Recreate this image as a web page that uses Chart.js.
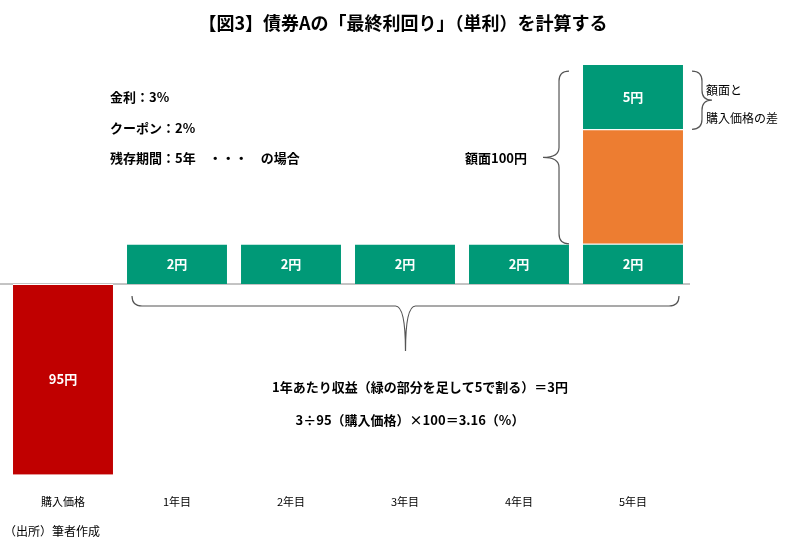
<!DOCTYPE html>
<html><head><meta charset="utf-8">
<script src="https://cdn.jsdelivr.net/npm/chart.js@4/dist/chart.umd.min.js"></script>
<style>body{margin:0;background:#fff}</style></head>
<body><canvas id="c" width="803" height="546"></canvas>
<script>
const categories = ['購入価格','1年目','2年目','3年目','4年目','5年目'];
const priceHeight = [-95, null, null, null, null, null];
const couponHeight = [null, 20, 20, 20, 20, 20];
const faceBodyHeight = [null, null, null, null, null, 57];
const diffHeight = [null, null, null, null, null, 32.5];
const priceLabels = ['95円'];
const couponLabels = ['2円','2円','2円','2円','2円'];
const diffLabels = ['5円'];
const FONT = '"Noto Sans CJK JP", "Noto Sans", sans-serif';

function brace(ctx, x1, y1, x2, y2, dir, depth){
  ctx.beginPath();
  ctx.strokeStyle='#555';ctx.lineWidth=1.2;
  if(dir==='down'){
    const m=(x1+x2)/2, r=10;
    ctx.moveTo(x1,y1);
    ctx.quadraticCurveTo(x1,y1+r,x1+r,y1+r);
    ctx.lineTo(m-r,y1+r);
    ctx.quadraticCurveTo(m,y1+r,m,y1+depth);
    ctx.quadraticCurveTo(m,y1+r,m+r,y1+r);
    ctx.lineTo(x2-r,y1+r);
    ctx.quadraticCurveTo(x2,y1+r,x2,y1);
  } else {
    const s = dir==='left'?-1:1, m=(y1+y2)/2, r=10;
    ctx.moveTo(x1,y1);
    ctx.quadraticCurveTo(x1+s*r,y1,x1+s*r,y1+r);
    ctx.lineTo(x1+s*r,m-r);
    ctx.quadraticCurveTo(x1+s*r,m,x1+s*depth,m);
    ctx.quadraticCurveTo(x1+s*r,m,x1+s*r,m+r);
    ctx.lineTo(x1+s*r,y2-r);
    ctx.quadraticCurveTo(x1+s*r,y2,x1,y2);
  }
  ctx.stroke();
}

const deco = {
  id:'deco',
  beforeDatasetsDraw(chart){
    const ctx=chart.ctx, y=chart.scales.y;
    ctx.save();ctx.strokeStyle='#888';ctx.lineWidth=1;
    ctx.beginPath();ctx.moveTo(0,y.getPixelForValue(0));ctx.lineTo(chart.chartArea.right,y.getPixelForValue(0));ctx.stroke();
    ctx.restore();
  },
  afterDatasetsDraw(chart){
    const ctx=chart.ctx;
    ctx.save();
    ctx.fillStyle='#fff';ctx.font='bold 13px '+FONT;ctx.textAlign='center';ctx.textBaseline='middle';
    const put=(di,labels,offset)=>{
      chart.getDatasetMeta(di).data.forEach((el,i)=>{
        const v=chart.data.datasets[di].data[i]; if(v==null) return;
        const t=labels[i-offset]; ctx.fillText(t,el.x,(el.y+el.base)/2);
      });
    };
    put(0,priceLabels,0);put(1,couponLabels,1);put(3,diffLabels,5);
    ctx.fillStyle='#000';ctx.textAlign='center';
    ctx.font='bold 18px '+FONT;ctx.fillText('【図3】債券Aの「最終利回り」（単利）を計算する',403,23);
    ctx.font='bold 13px '+FONT;ctx.textAlign='left';
    ctx.fillText('金利：3%',110,97);
    ctx.fillText('クーポン：2%',110,128);
    ctx.fillText('残存期間：5年　・・・　の場合',110,158);
    ctx.textAlign='right';ctx.fillText('額面100円',527,158);
    ctx.textAlign='center';
    ctx.fillText('1年あたり収益（緑の部分を足して5で割る）＝3円',420,387);
    ctx.fillText('3÷95（購入価格）×100＝3.16（%）',410,420);
    ctx.font='12px '+FONT;ctx.textAlign='left';
    ctx.fillText('額面と',706,90);ctx.fillText('購入価格の差',706,118);
    ctx.fillText('（出所）筆者作成',4,531);
    const m5=chart.getDatasetMeta(3).data[5], m1=chart.getDatasetMeta(1).data[1], m4=chart.getDatasetMeta(1).data[5], mo=chart.getDatasetMeta(2).data[5];
    brace(ctx,m5.x-m5.width/2-14,m5.y+7,m5.x-m5.width/2-14,mo.base,'left',26);
    brace(ctx,m5.x+m5.width/2+9,m5.y+7,m5.x+m5.width/2+9,m5.base,'right',20);
    brace(ctx,m1.x-m1.width/2+5,m1.base+12,m4.x+m4.width/2-4,0,'down',55);
    ctx.restore();
  }
};

new Chart(document.getElementById('c'),{
  type:'bar',
  data:{labels:categories,datasets:[
    {data:priceHeight,backgroundColor:'#C00000'},
    {data:couponHeight,backgroundColor:'#009977'},
    {data:faceBodyHeight,backgroundColor:'#ED7D31'},
    {data:diffHeight,backgroundColor:'#009977'}
  ]},
  options:{responsive:false,animation:false,
    layout:{padding:{left:6,right:113,top:43,bottom:26}},
    plugins:{legend:{display:false},tooltip:{enabled:false}},
    datasets:{bar:{categoryPercentage:1,barPercentage:0.877,borderColor:'#fff',borderWidth:{top:1,bottom:0,left:0,right:0},borderSkipped:false}},
    scales:{
      x:{stacked:true,grid:{display:false},border:{display:false},ticks:{color:'#000',font:{size:11,family:FONT},padding:12}},
      y:{stacked:true,display:false,min:-95,max:120}
    }
  },
  plugins:[deco]
});
</script></body></html>
